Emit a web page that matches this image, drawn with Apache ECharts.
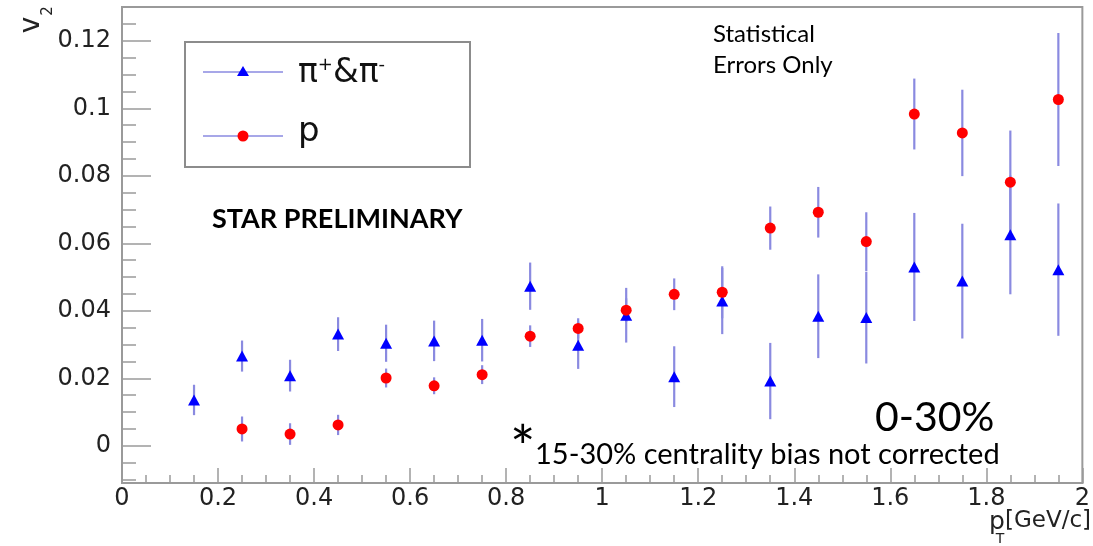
<!DOCTYPE html>
<html>
<head>
<meta charset="utf-8">
<script src="https://cdn.jsdelivr.net/npm/echarts@6/dist/echarts.min.js"></script>
<style>
    html, body { margin: 0; padding: 0; background: #fff; }
    #v2chart { width: 1093px; height: 546px; }
</style>
</head>
<body>
<div id="v2chart"></div>
<script>
// pT bin centres (GeV/c)
var pionPt  = [0.15, 0.25, 0.35, 0.45, 0.55, 0.65, 0.75, 0.85, 0.95, 1.05, 1.15, 1.25, 1.35, 1.45, 1.55, 1.65, 1.75, 1.85, 1.95];
var pionV2  = [0.0136, 0.0266, 0.0208, 0.0331, 0.0304, 0.0311, 0.0313, 0.0473, 0.0298, 0.0387, 0.0205, 0.0429, 0.0192, 0.0384, 0.0380, 0.0530, 0.0488, 0.0625, 0.0522];
var pionErr = [0.0045, 0.0046, 0.0047, 0.0050, 0.0055, 0.0060, 0.0063, 0.0070, 0.0070, 0.0081, 0.0090, 0.0098, 0.0113, 0.0124, 0.0136, 0.0160, 0.0170, 0.0176, 0.0196];

var protonPt  = [0.25, 0.35, 0.45, 0.55, 0.65, 0.75, 0.85, 0.95, 1.05, 1.15, 1.25, 1.35, 1.45, 1.55, 1.65, 1.75, 1.85, 1.95];
var protonV2  = [0.0050, 0.0035, 0.0062, 0.0201, 0.0178, 0.0211, 0.0325, 0.0348, 0.0402, 0.0449, 0.0455, 0.0645, 0.0692, 0.0605, 0.0983, 0.0927, 0.0781, 0.1026];
var protonErr = [0.0037, 0.0032, 0.0030, 0.0028, 0.0025, 0.0028, 0.0032, 0.0030, 0.0035, 0.0047, 0.0077, 0.0064, 0.0075, 0.0087, 0.0105, 0.0128, 0.0153, 0.0197];

var yMajorTicks = [0, 0.02, 0.04, 0.06, 0.08, 0.1, 0.12];
var yMinorTicks = [-0.01, -0.005, 0.005, 0.01, 0.015, 0.025, 0.03, 0.035, 0.045, 0.05, 0.055, 0.065, 0.07, 0.075, 0.085, 0.09, 0.095, 0.105, 0.11, 0.115, 0.125];

var tickFont = 'DejaVu Sans';
var noteFont = 'Lato';
var barColor = '#8a8ae0';
var frameColor = '#9a9a9a';

function pairs(xs, ys) {
    var out = [];
    for (var i = 0; i < xs.length; i++) out.push([xs[i], ys[i]]);
    return out;
}
function errRows(xs, ys, es) {
    var out = [];
    for (var i = 0; i < xs.length; i++) out.push([xs[i], ys[i] - es[i], ys[i] + es[i]]);
    return out;
}
function renderErr(params, api) {
    var lo = api.coord([api.value(0), api.value(1)]);
    var hi = api.coord([api.value(0), api.value(2)]);
    return {
        type: 'line',
        shape: { x1: lo[0], y1: lo[1], x2: hi[0], y2: hi[1] },
        style: { stroke: barColor, lineWidth: 2.2 }
    };
}

var myChart = echarts.init(document.getElementById('v2chart'));

var option = {
    animation: false,
    backgroundColor: '#fff',
    grid: {
        left: 122, right: 6, top: 7, bottom: 63,
        show: true, borderColor: frameColor, borderWidth: 2, backgroundColor: 'transparent'
    },
    xAxis: {
        type: 'value', min: 0, max: 2, interval: 0.2,
        axisLine: { show: true, onZero: false, lineStyle: { color: frameColor, width: 2 } },
        axisTick: { show: true, inside: true, length: 15, lineStyle: { color: frameColor, width: 1.5 } },
        minorTick: { show: true, splitNumber: 4, length: 8, lineStyle: { color: frameColor, width: 1.5 } },
        axisLabel: { fontFamily: tickFont, fontSize: 24, color: '#222', margin: 4 },
        splitLine: { show: false }
    },
    yAxis: [
        {
            type: 'value', min: -0.011, max: 0.13,
            axisLine: { show: true, onZero: false, lineStyle: { color: frameColor, width: 2 } },
            axisTick: { show: true, inside: true, length: 29, customValues: yMajorTicks, lineStyle: { color: frameColor, width: 1.5 } },
            axisLabel: {
                customValues: yMajorTicks, fontFamily: tickFont, fontSize: 24, color: '#222', margin: 11,
                formatter: function (v) { return String(+(+v).toFixed(2)); }
            },
            splitLine: { show: false }
        },
        {
            type: 'value', min: -0.011, max: 0.13, position: 'left',
            axisLine: { show: false, onZero: false },
            axisTick: { show: true, inside: true, length: 14, customValues: yMinorTicks, lineStyle: { color: frameColor, width: 1.5 } },
            axisLabel: { show: false },
            splitLine: { show: false }
        }
    ],
    series: [
        { name: 'pion err', type: 'custom', renderItem: renderErr, data: errRows(pionPt, pionV2, pionErr), z: 2 },
        { name: 'proton err', type: 'custom', renderItem: renderErr, data: errRows(protonPt, protonV2, protonErr), z: 2 },
        {
            name: 'π+&π-', type: 'scatter', symbol: 'triangle', symbolSize: [12, 11],
            itemStyle: { color: '#0000ff', opacity: 1 }, data: pairs(pionPt, pionV2), z: 3
        },
        {
            name: 'p', type: 'scatter', symbol: 'circle', symbolSize: 11,
            itemStyle: { color: '#ff0000', opacity: 1 }, data: pairs(protonPt, protonV2), z: 4
        }
    ],
    graphic: [
        // legend box
        { type: 'rect', shape: { x: 185, y: 42, width: 285, height: 125 },
          style: { fill: '#fff', stroke: '#8c8c8c', lineWidth: 2 }, z: 10 },
        { type: 'line', shape: { x1: 203, y1: 72, x2: 283, y2: 72 }, style: { stroke: barColor, lineWidth: 1.5 }, z: 11 },
        { type: 'polygon', shape: { points: [[243, 66], [249, 76], [237, 76]] }, style: { fill: '#0000ff' }, z: 12 },
        { type: 'line', shape: { x1: 203, y1: 136, x2: 283, y2: 136 }, style: { stroke: barColor, lineWidth: 1.5 }, z: 11 },
        { type: 'circle', shape: { cx: 243, cy: 136, r: 5.5 }, style: { fill: '#ff0000' }, z: 12 },
        { type: 'text', x: 298, y: 73, z: 12,
          style: { text: 'π{s|+}&π{s|-}', fontFamily: tickFont, fontSize: 33, fill: '#111', verticalAlign: 'middle',
                   rich: { s: { fontFamily: tickFont, fontSize: 18, verticalAlign: 'top', padding: [0, 0, 15, 0] } } } },
        { type: 'text', x: 298, y: 132, z: 12,
          style: { text: 'p', fontFamily: tickFont, fontSize: 34, fill: '#111', verticalAlign: 'middle' } },

        // axis titles
        { type: 'text', x: 32, y: 25, rotation: Math.PI / 2,
          style: { text: 'v', fontFamily: tickFont, fontSize: 28, fill: '#222', align: 'center', verticalAlign: 'middle' } },
        { type: 'text', x: 48, y: 11, rotation: Math.PI / 2,
          style: { text: '2', fontFamily: tickFont, fontSize: 15, fill: '#222', align: 'center', verticalAlign: 'middle' } },
        { type: 'text', x: 997, y: 522,
          style: { text: 'p', fontFamily: tickFont, fontSize: 25, fill: '#222', align: 'center', verticalAlign: 'middle' } },
        { type: 'text', x: 1000, y: 539,
          style: { text: 'T', fontFamily: tickFont, fontSize: 14, fill: '#222', align: 'center', verticalAlign: 'middle' } },
        { type: 'text', x: 1091, y: 521,
          style: { text: '[GeV/c]', fontFamily: tickFont, fontSize: 23, fill: '#222', align: 'right', verticalAlign: 'middle' } },

        // slide annotations
        { type: 'text', x: 212, y: 219,
          style: { text: 'STAR PRELIMINARY', fontFamily: noteFont, fontWeight: 'bold', fontSize: 27, fill: '#000', verticalAlign: 'middle' } },
        { type: 'text', x: 713, y: 34,
          style: { text: 'Statistical', fontFamily: noteFont, fontSize: 24, fill: '#000', verticalAlign: 'middle' } },
        { type: 'text', x: 713, y: 65,
          style: { text: 'Errors Only', fontFamily: noteFont, fontSize: 24, fill: '#000', verticalAlign: 'middle' } },
        { type: 'text', x: 875, y: 418,
          style: { text: '0-30%', fontFamily: noteFont, fontSize: 41, fill: '#000', verticalAlign: 'middle' } },
        { type: 'text', x: 510, y: 450,
          style: { text: '*', fontFamily: noteFont, fontSize: 60, fill: '#000', verticalAlign: 'middle' } },
        { type: 'text', x: 535, y: 455,
          style: { text: '15-30% centrality bias not corrected', fontFamily: noteFont, fontSize: 29, fill: '#000', verticalAlign: 'middle' } }
    ]
};

myChart.setOption(option);
window.onresize = myChart.resize;
</script>
</body>
</html>
